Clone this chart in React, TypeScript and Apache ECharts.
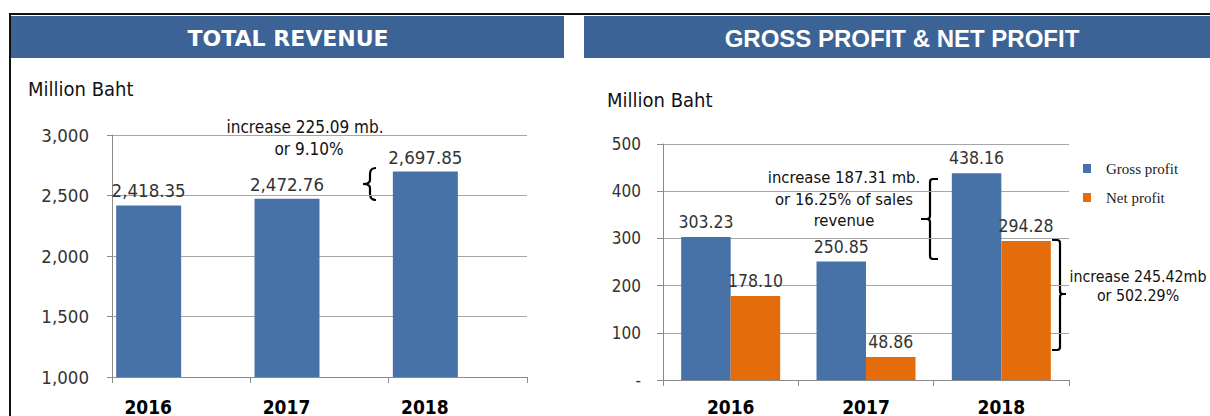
import React, { useEffect, useRef } from "react";
import * as echarts from "echarts";

const years = ["2016", "2017", "2018"];
const totalRevenue = [2418.35, 2472.76, 2697.85];
const grossProfit = [303.23, 250.85, 438.16];
const netProfit = [178.1, 48.86, 294.28];
const revenueTicks = { min: 1000, max: 3000, interval: 500 };
const profitTicks = { min: 0, max: 500, interval: 100 };

const FONT = "'DejaVu Sans Condensed', 'DejaVu Sans', sans-serif";
const BLUE = "#4672a8";
const ORANGE = "#e46c0a";
const HEADER = "#3b6395";

const fmtComma = (v: number, d = 0) =>
  v.toLocaleString("en-US", { minimumFractionDigits: d, maximumFractionDigits: d });

export default function App() {
  const ref = useRef<HTMLDivElement>(null);
  useEffect(() => {
    document.body.style.margin = "0";
    echarts.graphic.registerShape(
      "braceL",
      echarts.graphic.extendPath(
        "M13,0 C9,0 7,2 7,6 L7,12 C7,15 5,16 0,16 C5,16 7,17 7,20 L7,26 C7,30 9,32 13,32",
        {}
      )
    );
    echarts.graphic.registerShape(
      "bracket1",
      echarts.graphic.extendPath(
        "M17,0 L12,0 Q9,0 9,3 L9,37 Q9,40 6,40 L0,40 M6,40 Q9,40 9,43 L9,77 Q9,80 12,80 L17,80",
        {}
      )
    );
    echarts.graphic.registerShape(
      "bracket2",
      echarts.graphic.extendPath(
        "M0,0 L5,0 Q8,0 8,3 L8,51 Q8,54 11,54 L14,54 M11,54 Q8,54 8,57 L8,107 Q8,110 5,110 L0,110",
        {}
      )
    );

    const chart = echarts.init(ref.current!, null, { renderer: "svg" });
    const axisLineStyle = { color: "#8c8c8c", width: 1 };
    const gridLine = { lineStyle: { color: "#a6a6a6", width: 1 } };
    const braceStyle = { stroke: "#000", lineWidth: 2.2, fill: null };

    chart.setOption({
      animation: false,
      backgroundColor: "#fff",
      grid: [
        { left: 112, top: 135, width: 415, height: 243 },
        { left: 663, top: 144, width: 406, height: 237 },
      ],
      legend: {
        orient: "vertical",
        left: 1083,
        top: 161,
        padding: 0,
        itemWidth: 8,
        itemHeight: 9,
        itemGap: 14,
        icon: "rect",
        data: ["Gross profit", "Net profit"],
        textStyle: {
          fontFamily: "'Liberation Serif', serif",
          fontSize: 15,
          color: "#222",
          padding: [0, 0, 0, 10],
        },
      },
      xAxis: [
        {
          type: "category",
          gridIndex: 0,
          data: years,
          axisLine: { lineStyle: axisLineStyle },
          axisTick: { show: true, length: 6, lineStyle: axisLineStyle },
          axisLabel: {
            margin: 20,
            formatter: "{a|{value}}",
            rich: {
              a: {
                fontFamily: FONT,
                fontWeight: "bold",
                fontSize: 19,
                color: "#000",
                padding: [0, 66, 0, 0],
              },
            },
          },
        },
        {
          type: "category",
          gridIndex: 1,
          data: years,
          axisLine: { lineStyle: axisLineStyle },
          axisTick: { show: true, length: 6, lineStyle: axisLineStyle },
          axisLabel: {
            margin: 17,
            fontFamily: FONT,
            fontWeight: "bold",
            fontSize: 19,
            color: "#000",
          },
        },
      ],
      yAxis: [
        {
          type: "value",
          gridIndex: 0,
          ...revenueTicks,
          axisLine: { show: true, lineStyle: axisLineStyle },
          axisTick: { show: true, length: 5, lineStyle: axisLineStyle },
          splitLine: gridLine,
          axisLabel: {
            margin: 23,
            fontFamily: FONT,
            fontSize: 18.5,
            color: "#333",
            formatter: (v: number) => fmtComma(v),
          },
        },
        {
          type: "value",
          gridIndex: 1,
          ...profitTicks,
          axisLine: { show: true, lineStyle: axisLineStyle },
          axisTick: { show: true, length: 6, lineStyle: axisLineStyle },
          splitLine: gridLine,
          axisLabel: {
            margin: 22,
            fontFamily: FONT,
            fontSize: 17,
            color: "#333",
            formatter: (v: number) => (v === 0 ? "-" : String(v)),
          },
        },
      ],
      series: [
        {
          name: "Total revenue",
          type: "bar",
          xAxisIndex: 0,
          yAxisIndex: 0,
          data: totalRevenue,
          barWidth: 65,
          barGap: "0%",
          itemStyle: { color: BLUE },
          label: {
            show: true,
            position: "top",
            distance: 5,
            fontFamily: FONT,
            fontSize: 18.5,
            color: "#333",
            formatter: (p: any) => fmtComma(p.value, 2),
          },
        },
        {
          name: "placeholder",
          type: "bar",
          xAxisIndex: 0,
          yAxisIndex: 0,
          data: years.map(() => "-"),
          barWidth: 65,
          barGap: "0%",
          silent: true,
        },
        {
          name: "Gross profit",
          type: "bar",
          xAxisIndex: 1,
          yAxisIndex: 1,
          data: grossProfit,
          barWidth: 49.5,
          barGap: "0%",
          itemStyle: { color: BLUE },
          label: {
            show: true,
            position: "top",
            distance: 6,
            fontFamily: FONT,
            fontSize: 17.5,
            color: "#333",
            formatter: (p: any) => p.value.toFixed(2),
          },
        },
        {
          name: "Net profit",
          type: "bar",
          xAxisIndex: 1,
          yAxisIndex: 1,
          data: netProfit,
          barWidth: 49.5,
          barGap: "0%",
          itemStyle: { color: ORANGE },
          label: {
            show: true,
            position: "top",
            distance: 6,
            fontFamily: FONT,
            fontSize: 17.5,
            color: "#333",
            formatter: (p: any) => p.value.toFixed(2),
          },
        },
      ],
      graphic: [
        { type: "rect", shape: { x: 9, y: 13, width: 1201, height: 2 }, style: { fill: "#111" } },
        { type: "rect", shape: { x: 9, y: 13, width: 2, height: 403 }, style: { fill: "#111" } },
        { type: "rect", shape: { x: 11, y: 16, width: 553, height: 42 }, style: { fill: HEADER } },
        { type: "rect", shape: { x: 584, y: 16, width: 626, height: 42 }, style: { fill: HEADER } },
        {
          type: "text",
          x: 288,
          y: 38,
          style: {
            text: "TOTAL REVENUE",
            fill: "#fff",
            font: "bold 22px 'DejaVu Sans', sans-serif",
            align: "center",
            verticalAlign: "middle",
          },
        },
        {
          type: "text",
          x: 902,
          y: 38,
          style: {
            text: "GROSS PROFIT & NET PROFIT",
            fill: "#fff",
            font: "bold 24px 'Liberation Sans', Arial, sans-serif",
            align: "center",
            verticalAlign: "middle",
          },
        },
        {
          type: "text",
          x: 28,
          y: 89,
          style: { text: "Million Baht", fill: "#111", font: `20px ${FONT}`, verticalAlign: "middle" },
        },
        {
          type: "text",
          x: 607,
          y: 100,
          style: { text: "Million Baht", fill: "#111", font: `20px ${FONT}`, verticalAlign: "middle" },
        },
        {
          type: "text",
          x: 305,
          y: 127,
          style: {
            text: "increase 225.09 mb.",
            fill: "#111",
            font: `17px ${FONT}`,
            align: "center",
            verticalAlign: "middle",
          },
        },
        {
          type: "text",
          x: 309,
          y: 149,
          style: { text: "or 9.10%", fill: "#111", font: `17px ${FONT}`, align: "center", verticalAlign: "middle" },
        },
        {
          type: "text",
          x: 844,
          y: 199,
          style: {
            text: "increase 187.31 mb.\nor 16.25% of sales\nrevenue",
            fill: "#111",
            font: `16.5px ${FONT}`,
            lineHeight: 21.5,
            align: "center",
            verticalAlign: "middle",
          },
        },
        {
          type: "text",
          x: 1138,
          y: 286,
          style: {
            text: "increase 245.42mb\nor 502.29%",
            fill: "#111",
            font: `15.8px ${FONT}`,
            lineHeight: 19.5,
            align: "center",
            verticalAlign: "middle",
          },
        },
        { type: "braceL", x: 363, y: 168, style: braceStyle },
        { type: "bracket1", x: 921, y: 179, style: braceStyle },
        { type: "bracket2", x: 1052, y: 240, style: braceStyle },
      ],
    });
    return () => chart.dispose();
  }, []);
  return <div ref={ref} style={{ width: 1210, height: 416 }} />;
}
